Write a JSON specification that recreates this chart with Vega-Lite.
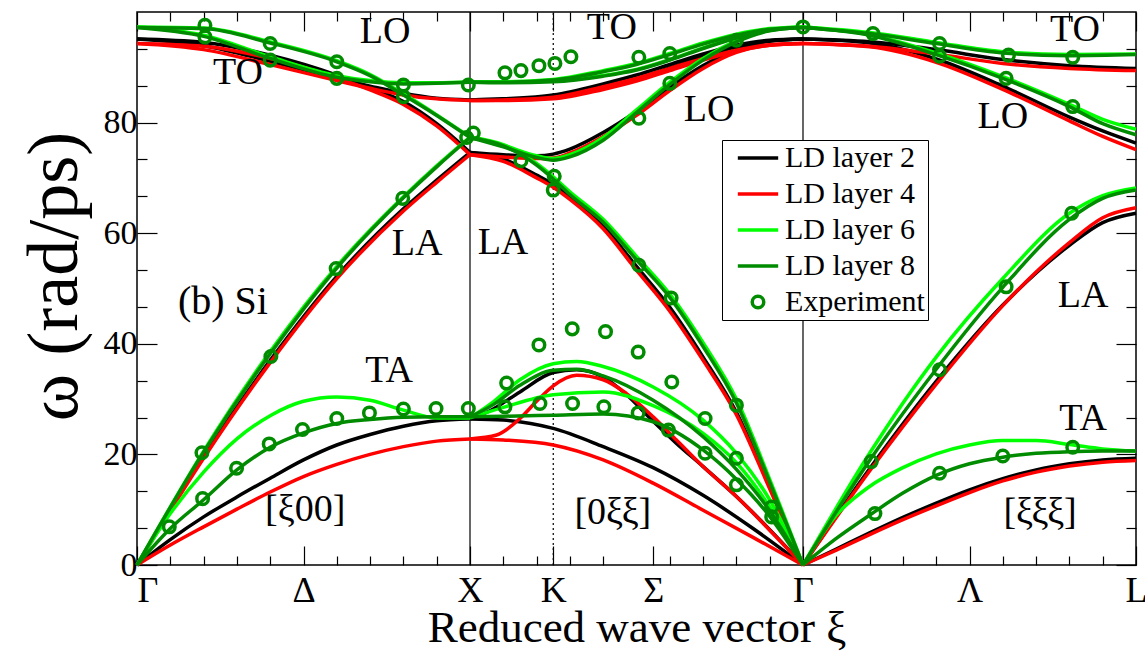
{
  "$schema": "https://vega.github.io/schema/vega-lite/v6.json",
  "width": 999,
  "height": 553,
  "autosize": {"type": "none"},
  "padding": {"left": 137, "top": 12, "right": 9, "bottom": 92},
  "background": "white",
  "config": {
    "font": "Liberation Serif",
    "view": {"stroke": "#000", "strokeWidth": 1.5},
    "style": {"guide-label": {"font": "Liberation Serif, serif"}, "guide-title": {"font": "Liberation Serif, serif"}},
    "axis": {"domain": false, "grid": false, "labelFont": "Liberation Serif", "titleFont": "Liberation Serif", "labelColor": "#000", "titleColor": "#000", "tickColor": "#000", "titleFontWeight": "normal", "labelFlush": false, "labelOverlap": false},
    "legend": {"labelFont": "Liberation Serif, serif", "labelFontSize": 30, "labelColor": "#000"}
  },
  "datasets": {
    "bands": [
      {"m":"L2","b":"GX-TA","x":0,"w":0},{"m":"L2","b":"GX-TA","x":0.1,"w":4.6},{"m":"L2","b":"GX-TA","x":0.2,"w":8.7},{"m":"L2","b":"GX-TA","x":0.3,"w":12.3},{"m":"L2","b":"GX-TA","x":0.4,"w":15.7},{"m":"L2","b":"GX-TA","x":0.5,"w":19.0},{"m":"L2","b":"GX-TA","x":0.6,"w":21.7},{"m":"L2","b":"GX-TA","x":0.7,"w":23.6},{"m":"L2","b":"GX-TA","x":0.8,"w":25.1},{"m":"L2","b":"GX-TA","x":0.9,"w":26.1},{"m":"L2","b":"GX-TA","x":1,"w":26.4},
      {"m":"L2","b":"GX-LA","x":0,"w":0},{"m":"L2","b":"GX-LA","x":0.2,"w":19.6},{"m":"L2","b":"GX-LA","x":0.4,"w":37.0},{"m":"L2","b":"GX-LA","x":0.6,"w":52.2},{"m":"L2","b":"GX-LA","x":0.8,"w":64.4},{"m":"L2","b":"GX-LA","x":0.9,"w":69.6},{"m":"L2","b":"GX-LA","x":1,"w":74.6},
      {"m":"L2","b":"GX-LO","x":0,"w":95.1},{"m":"L2","b":"GX-LO","x":0.2,"w":94.5},{"m":"L2","b":"GX-LO","x":0.4,"w":92.2},{"m":"L2","b":"GX-LO","x":0.6,"w":88.6},{"m":"L2","b":"GX-LO","x":0.7,"w":86.3},{"m":"L2","b":"GX-LO","x":0.8,"w":83.8},{"m":"L2","b":"GX-LO","x":0.9,"w":79.8},{"m":"L2","b":"GX-LO","x":1,"w":74.6},
      {"m":"L2","b":"GX-TO","x":0,"w":95.1},{"m":"L2","b":"GX-TO","x":0.2,"w":93.9},{"m":"L2","b":"GX-TO","x":0.4,"w":91.1},{"m":"L2","b":"GX-TO","x":0.6,"w":88.0},{"m":"L2","b":"GX-TO","x":0.7,"w":86.6},{"m":"L2","b":"GX-TO","x":0.8,"w":85.3},{"m":"L2","b":"GX-TO","x":0.9,"w":84.4},{"m":"L2","b":"GX-TO","x":1,"w":84.1},
      {"m":"L2","b":"S-TA1","x":1,"w":26.4},{"m":"L2","b":"S-TA1","x":1.1,"w":26.2},{"m":"L2","b":"S-TA1","x":1.25,"w":24.7},{"m":"L2","b":"S-TA1","x":1.4,"w":21.4},{"m":"L2","b":"S-TA1","x":1.55,"w":17.6},{"m":"L2","b":"S-TA1","x":1.7,"w":12.6},{"m":"L2","b":"S-TA1","x":1.85,"w":6.6},{"m":"L2","b":"S-TA1","x":2,"w":0},
      {"m":"L2","b":"S-TA2","x":1,"w":26.4},{"m":"L2","b":"S-TA2","x":1.06,"w":27.9},{"m":"L2","b":"S-TA2","x":1.15,"w":31.3},{"m":"L2","b":"S-TA2","x":1.25,"w":34.8},{"m":"L2","b":"S-TA2","x":1.32,"w":35.3},{"m":"L2","b":"S-TA2","x":1.4,"w":34.0},{"m":"L2","b":"S-TA2","x":1.47,"w":30.8},{"m":"L2","b":"S-TA2","x":1.55,"w":26.0},{"m":"L2","b":"S-TA2","x":1.62,"w":22.0},{"m":"L2","b":"S-TA2","x":1.7,"w":17.8},{"m":"L2","b":"S-TA2","x":1.8,"w":12.4},{"m":"L2","b":"S-TA2","x":1.9,"w":6.4},{"m":"L2","b":"S-TA2","x":2,"w":0},
      {"m":"L2","b":"S-LA","x":1,"w":74.6},{"m":"L2","b":"S-LA","x":1.1,"w":73.4},{"m":"L2","b":"S-LA","x":1.2,"w":70.5},{"m":"L2","b":"S-LA","x":1.25,"w":68.8},{"m":"L2","b":"S-LA","x":1.3,"w":66.6},{"m":"L2","b":"S-LA","x":1.4,"w":61.3},{"m":"L2","b":"S-LA","x":1.5,"w":54.0},{"m":"L2","b":"S-LA","x":1.6,"w":46.6},{"m":"L2","b":"S-LA","x":1.7,"w":37.6},{"m":"L2","b":"S-LA","x":1.8,"w":27.6},{"m":"L2","b":"S-LA","x":1.9,"w":14.1},{"m":"L2","b":"S-LA","x":2,"w":0},
      {"m":"L2","b":"S-LO","x":1,"w":74.6},{"m":"L2","b":"S-LO","x":1.1,"w":74.2},{"m":"L2","b":"S-LO","x":1.2,"w":74.0},{"m":"L2","b":"S-LO","x":1.25,"w":74.3},{"m":"L2","b":"S-LO","x":1.3,"w":75.2},{"m":"L2","b":"S-LO","x":1.4,"w":78.2},{"m":"L2","b":"S-LO","x":1.5,"w":82.0},{"m":"L2","b":"S-LO","x":1.6,"w":86.4},{"m":"L2","b":"S-LO","x":1.7,"w":90.3},{"m":"L2","b":"S-LO","x":1.8,"w":93.2},{"m":"L2","b":"S-LO","x":1.9,"w":94.7},{"m":"L2","b":"S-LO","x":2,"w":95.1},
      {"m":"L2","b":"S-TOa","x":1,"w":84.1},{"m":"L2","b":"S-TOa","x":1.1,"w":84.3},{"m":"L2","b":"S-TOa","x":1.25,"w":85.0},{"m":"L2","b":"S-TOa","x":1.4,"w":87.0},{"m":"L2","b":"S-TOa","x":1.5,"w":88.6},{"m":"L2","b":"S-TOa","x":1.6,"w":90.5},{"m":"L2","b":"S-TOa","x":1.7,"w":92.4},{"m":"L2","b":"S-TOa","x":1.8,"w":94.0},{"m":"L2","b":"S-TOa","x":1.9,"w":94.9},{"m":"L2","b":"S-TOa","x":2,"w":95.1},
      {"m":"L2","b":"S-TOb","x":1,"w":84.1},{"m":"L2","b":"S-TOb","x":1.1,"w":84.2},{"m":"L2","b":"S-TOb","x":1.25,"w":84.6},{"m":"L2","b":"S-TOb","x":1.4,"w":86.3},{"m":"L2","b":"S-TOb","x":1.5,"w":87.9},{"m":"L2","b":"S-TOb","x":1.6,"w":89.9},{"m":"L2","b":"S-TOb","x":1.7,"w":91.9},{"m":"L2","b":"S-TOb","x":1.8,"w":93.7},{"m":"L2","b":"S-TOb","x":1.9,"w":94.8},{"m":"L2","b":"S-TOb","x":2,"w":95.1},
      {"m":"L2","b":"L-TA","x":2,"w":0},{"m":"L2","b":"L-TA","x":2.1,"w":2.9},{"m":"L2","b":"L-TA","x":2.2,"w":5.8},{"m":"L2","b":"L-TA","x":2.3,"w":8.6},{"m":"L2","b":"L-TA","x":2.4,"w":11.2},{"m":"L2","b":"L-TA","x":2.5,"w":13.6},{"m":"L2","b":"L-TA","x":2.6,"w":15.6},{"m":"L2","b":"L-TA","x":2.7,"w":17.2},{"m":"L2","b":"L-TA","x":2.8,"w":18.3},{"m":"L2","b":"L-TA","x":2.9,"w":19.0},{"m":"L2","b":"L-TA","x":3,"w":19.3},
      {"m":"L2","b":"L-LA","x":2,"w":0},{"m":"L2","b":"L-LA","x":2.2,"w":17.4},{"m":"L2","b":"L-LA","x":2.4,"w":33.2},{"m":"L2","b":"L-LA","x":2.6,"w":47.0},{"m":"L2","b":"L-LA","x":2.8,"w":57.8},{"m":"L2","b":"L-LA","x":2.9,"w":61.9},{"m":"L2","b":"L-LA","x":3,"w":63.6},
      {"m":"L2","b":"L-LO","x":2,"w":95.1},{"m":"L2","b":"L-LO","x":2.2,"w":94.4},{"m":"L2","b":"L-LO","x":2.4,"w":91.5},{"m":"L2","b":"L-LO","x":2.6,"w":86.6},{"m":"L2","b":"L-LO","x":2.8,"w":81.0},{"m":"L2","b":"L-LO","x":2.9,"w":78.5},{"m":"L2","b":"L-LO","x":3,"w":76.3},
      {"m":"L2","b":"L-TO","x":2,"w":95.1},{"m":"L2","b":"L-TO","x":2.2,"w":94.6},{"m":"L2","b":"L-TO","x":2.4,"w":93.2},{"m":"L2","b":"L-TO","x":2.6,"w":91.4},{"m":"L2","b":"L-TO","x":2.8,"w":90.3},{"m":"L2","b":"L-TO","x":3,"w":89.8},

      {"m":"L4","b":"GX-TA","x":0,"w":0},{"m":"L4","b":"GX-TA","x":0.1,"w":3.6},{"m":"L4","b":"GX-TA","x":0.2,"w":6.9},{"m":"L4","b":"GX-TA","x":0.3,"w":10.1},{"m":"L4","b":"GX-TA","x":0.4,"w":13.2},{"m":"L4","b":"GX-TA","x":0.5,"w":16.0},{"m":"L4","b":"GX-TA","x":0.6,"w":18.2},{"m":"L4","b":"GX-TA","x":0.7,"w":20.0},{"m":"L4","b":"GX-TA","x":0.8,"w":21.4},{"m":"L4","b":"GX-TA","x":0.9,"w":22.4},{"m":"L4","b":"GX-TA","x":1,"w":22.8},
      {"m":"L4","b":"GX-LA","x":0,"w":0},{"m":"L4","b":"GX-LA","x":0.2,"w":19.3},{"m":"L4","b":"GX-LA","x":0.4,"w":36.6},{"m":"L4","b":"GX-LA","x":0.6,"w":51.8},{"m":"L4","b":"GX-LA","x":0.8,"w":64.0},{"m":"L4","b":"GX-LA","x":0.9,"w":69.2},{"m":"L4","b":"GX-LA","x":1,"w":74.2},
      {"m":"L4","b":"GX-LO","x":0,"w":94.3},{"m":"L4","b":"GX-LO","x":0.2,"w":93.8},{"m":"L4","b":"GX-LO","x":0.4,"w":91.6},{"m":"L4","b":"GX-LO","x":0.6,"w":88.1},{"m":"L4","b":"GX-LO","x":0.7,"w":85.9},{"m":"L4","b":"GX-LO","x":0.8,"w":83.3},{"m":"L4","b":"GX-LO","x":0.9,"w":79.4},{"m":"L4","b":"GX-LO","x":1,"w":74.2},
      {"m":"L4","b":"GX-TO","x":0,"w":94.3},{"m":"L4","b":"GX-TO","x":0.2,"w":93.2},{"m":"L4","b":"GX-TO","x":0.4,"w":90.5},{"m":"L4","b":"GX-TO","x":0.6,"w":87.6},{"m":"L4","b":"GX-TO","x":0.7,"w":86.2},{"m":"L4","b":"GX-TO","x":0.8,"w":85.0},{"m":"L4","b":"GX-TO","x":0.9,"w":84.3},{"m":"L4","b":"GX-TO","x":1,"w":84.0},
      {"m":"L4","b":"S-TA1","x":1,"w":22.8},{"m":"L4","b":"S-TA1","x":1.1,"w":22.6},{"m":"L4","b":"S-TA1","x":1.25,"w":21.7},{"m":"L4","b":"S-TA1","x":1.4,"w":19.0},{"m":"L4","b":"S-TA1","x":1.55,"w":14.8},{"m":"L4","b":"S-TA1","x":1.7,"w":9.9},{"m":"L4","b":"S-TA1","x":1.85,"w":5.0},{"m":"L4","b":"S-TA1","x":2,"w":0},
      {"m":"L4","b":"S-TA2","x":1,"w":22.8},{"m":"L4","b":"S-TA2","x":1.08,"w":23.5},{"m":"L4","b":"S-TA2","x":1.15,"w":26.5},{"m":"L4","b":"S-TA2","x":1.2,"w":29.6},{"m":"L4","b":"S-TA2","x":1.25,"w":32.4},{"m":"L4","b":"S-TA2","x":1.32,"w":34.3},{"m":"L4","b":"S-TA2","x":1.4,"w":33.5},{"m":"L4","b":"S-TA2","x":1.47,"w":31.0},{"m":"L4","b":"S-TA2","x":1.55,"w":26.8},{"m":"L4","b":"S-TA2","x":1.62,"w":22.6},{"m":"L4","b":"S-TA2","x":1.7,"w":17.8},{"m":"L4","b":"S-TA2","x":1.8,"w":12.4},{"m":"L4","b":"S-TA2","x":1.9,"w":6.3},{"m":"L4","b":"S-TA2","x":2,"w":0},
      {"m":"L4","b":"S-LA","x":1,"w":74.2},{"m":"L4","b":"S-LA","x":1.1,"w":73.0},{"m":"L4","b":"S-LA","x":1.2,"w":70.0},{"m":"L4","b":"S-LA","x":1.25,"w":68.3},{"m":"L4","b":"S-LA","x":1.3,"w":66.1},{"m":"L4","b":"S-LA","x":1.4,"w":60.8},{"m":"L4","b":"S-LA","x":1.5,"w":53.3},{"m":"L4","b":"S-LA","x":1.6,"w":45.9},{"m":"L4","b":"S-LA","x":1.7,"w":37.0},{"m":"L4","b":"S-LA","x":1.8,"w":27.2},{"m":"L4","b":"S-LA","x":1.9,"w":13.8},{"m":"L4","b":"S-LA","x":2,"w":0},
      {"m":"L4","b":"S-LO","x":1,"w":74.2},{"m":"L4","b":"S-LO","x":1.1,"w":73.8},{"m":"L4","b":"S-LO","x":1.2,"w":73.5},{"m":"L4","b":"S-LO","x":1.25,"w":73.6},{"m":"L4","b":"S-LO","x":1.3,"w":74.5},{"m":"L4","b":"S-LO","x":1.4,"w":77.5},{"m":"L4","b":"S-LO","x":1.5,"w":81.3},{"m":"L4","b":"S-LO","x":1.6,"w":85.8},{"m":"L4","b":"S-LO","x":1.7,"w":89.8},{"m":"L4","b":"S-LO","x":1.8,"w":92.7},{"m":"L4","b":"S-LO","x":1.9,"w":94.0},{"m":"L4","b":"S-LO","x":2,"w":94.3},
      {"m":"L4","b":"S-TOa","x":1,"w":84.0},{"m":"L4","b":"S-TOa","x":1.1,"w":84.1},{"m":"L4","b":"S-TOa","x":1.25,"w":84.6},{"m":"L4","b":"S-TOa","x":1.4,"w":86.5},{"m":"L4","b":"S-TOa","x":1.5,"w":88.0},{"m":"L4","b":"S-TOa","x":1.6,"w":89.8},{"m":"L4","b":"S-TOa","x":1.7,"w":91.6},{"m":"L4","b":"S-TOa","x":1.8,"w":93.1},{"m":"L4","b":"S-TOa","x":1.9,"w":94.1},{"m":"L4","b":"S-TOa","x":2,"w":94.3},
      {"m":"L4","b":"S-TOb","x":1,"w":84.0},{"m":"L4","b":"S-TOb","x":1.1,"w":84.0},{"m":"L4","b":"S-TOb","x":1.25,"w":84.3},{"m":"L4","b":"S-TOb","x":1.4,"w":86.0},{"m":"L4","b":"S-TOb","x":1.5,"w":87.5},{"m":"L4","b":"S-TOb","x":1.6,"w":89.4},{"m":"L4","b":"S-TOb","x":1.7,"w":91.3},{"m":"L4","b":"S-TOb","x":1.8,"w":92.9},{"m":"L4","b":"S-TOb","x":1.9,"w":94.0},{"m":"L4","b":"S-TOb","x":2,"w":94.3},
      {"m":"L4","b":"L-TA","x":2,"w":0},{"m":"L4","b":"L-TA","x":2.1,"w":2.7},{"m":"L4","b":"L-TA","x":2.2,"w":5.5},{"m":"L4","b":"L-TA","x":2.3,"w":8.2},{"m":"L4","b":"L-TA","x":2.4,"w":10.7},{"m":"L4","b":"L-TA","x":2.5,"w":13.1},{"m":"L4","b":"L-TA","x":2.6,"w":15.2},{"m":"L4","b":"L-TA","x":2.7,"w":16.8},{"m":"L4","b":"L-TA","x":2.8,"w":17.9},{"m":"L4","b":"L-TA","x":2.9,"w":18.6},{"m":"L4","b":"L-TA","x":3,"w":18.9},
      {"m":"L4","b":"L-LA","x":2,"w":0},{"m":"L4","b":"L-LA","x":2.2,"w":17.0},{"m":"L4","b":"L-LA","x":2.4,"w":32.7},{"m":"L4","b":"L-LA","x":2.6,"w":46.9},{"m":"L4","b":"L-LA","x":2.8,"w":58.3},{"m":"L4","b":"L-LA","x":2.9,"w":62.8},{"m":"L4","b":"L-LA","x":3,"w":64.6},
      {"m":"L4","b":"L-LO","x":2,"w":94.3},{"m":"L4","b":"L-LO","x":2.2,"w":93.7},{"m":"L4","b":"L-LO","x":2.4,"w":90.9},{"m":"L4","b":"L-LO","x":2.6,"w":86.0},{"m":"L4","b":"L-LO","x":2.8,"w":80.3},{"m":"L4","b":"L-LO","x":2.9,"w":77.5},{"m":"L4","b":"L-LO","x":3,"w":75.1},
      {"m":"L4","b":"L-TO","x":2,"w":94.3},{"m":"L4","b":"L-TO","x":2.2,"w":93.8},{"m":"L4","b":"L-TO","x":2.4,"w":92.4},{"m":"L4","b":"L-TO","x":2.6,"w":90.7},{"m":"L4","b":"L-TO","x":2.8,"w":89.8},{"m":"L4","b":"L-TO","x":3,"w":89.4},

      {"m":"L6","b":"GX-TA","x":0,"w":0},{"m":"L6","b":"GX-TA","x":0.1,"w":9.3},{"m":"L6","b":"GX-TA","x":0.2,"w":16.8},{"m":"L6","b":"GX-TA","x":0.3,"w":22.8},{"m":"L6","b":"GX-TA","x":0.4,"w":27.0},{"m":"L6","b":"GX-TA","x":0.5,"w":29.6},{"m":"L6","b":"GX-TA","x":0.6,"w":30.4},{"m":"L6","b":"GX-TA","x":0.7,"w":29.8},{"m":"L6","b":"GX-TA","x":0.8,"w":28.0},{"m":"L6","b":"GX-TA","x":0.9,"w":26.6},{"m":"L6","b":"GX-TA","x":1,"w":26.6},
      {"m":"L6","b":"GX-LA","x":0,"w":0},{"m":"L6","b":"GX-LA","x":0.2,"w":20.6},{"m":"L6","b":"GX-LA","x":0.4,"w":38.6},{"m":"L6","b":"GX-LA","x":0.6,"w":54.0},{"m":"L6","b":"GX-LA","x":0.8,"w":66.6},{"m":"L6","b":"GX-LA","x":0.9,"w":72.2},{"m":"L6","b":"GX-LA","x":1,"w":77.4},
      {"m":"L6","b":"GX-LO","x":0,"w":97.3},{"m":"L6","b":"GX-LO","x":0.2,"w":97.1},{"m":"L6","b":"GX-LO","x":0.4,"w":94.6},{"m":"L6","b":"GX-LO","x":0.6,"w":91.2},{"m":"L6","b":"GX-LO","x":0.7,"w":88.7},{"m":"L6","b":"GX-LO","x":0.8,"w":85.2},{"m":"L6","b":"GX-LO","x":0.9,"w":81.4},{"m":"L6","b":"GX-LO","x":1,"w":77.4},
      {"m":"L6","b":"GX-TO","x":0,"w":97.3},{"m":"L6","b":"GX-TO","x":0.2,"w":95.8},{"m":"L6","b":"GX-TO","x":0.4,"w":91.9},{"m":"L6","b":"GX-TO","x":0.6,"w":88.5},{"m":"L6","b":"GX-TO","x":0.7,"w":87.6},{"m":"L6","b":"GX-TO","x":0.8,"w":87.2},{"m":"L6","b":"GX-TO","x":0.9,"w":87.2},{"m":"L6","b":"GX-TO","x":1,"w":87.4},
      {"m":"L6","b":"S-TA1","x":1,"w":26.6},{"m":"L6","b":"S-TA1","x":1.1,"w":28.5},{"m":"L6","b":"S-TA1","x":1.25,"w":30.8},{"m":"L6","b":"S-TA1","x":1.4,"w":31.3},{"m":"L6","b":"S-TA1","x":1.55,"w":28.8},{"m":"L6","b":"S-TA1","x":1.7,"w":23.8},{"m":"L6","b":"S-TA1","x":1.8,"w":18.5},{"m":"L6","b":"S-TA1","x":1.9,"w":10.5},{"m":"L6","b":"S-TA1","x":2,"w":0},
      {"m":"L6","b":"S-TA2","x":1,"w":26.6},{"m":"L6","b":"S-TA2","x":1.07,"w":29.5},{"m":"L6","b":"S-TA2","x":1.15,"w":33.5},{"m":"L6","b":"S-TA2","x":1.25,"w":36.4},{"m":"L6","b":"S-TA2","x":1.32,"w":36.8},{"m":"L6","b":"S-TA2","x":1.4,"w":35.9},{"m":"L6","b":"S-TA2","x":1.55,"w":32.2},{"m":"L6","b":"S-TA2","x":1.7,"w":26.2},{"m":"L6","b":"S-TA2","x":1.8,"w":20.2},{"m":"L6","b":"S-TA2","x":1.9,"w":11.8},{"m":"L6","b":"S-TA2","x":2,"w":0},
      {"m":"L6","b":"S-LA","x":1,"w":77.4},{"m":"L6","b":"S-LA","x":1.1,"w":76.0},{"m":"L6","b":"S-LA","x":1.2,"w":72.6},{"m":"L6","b":"S-LA","x":1.25,"w":70.2},{"m":"L6","b":"S-LA","x":1.3,"w":67.5},{"m":"L6","b":"S-LA","x":1.4,"w":62.5},{"m":"L6","b":"S-LA","x":1.5,"w":55.8},{"m":"L6","b":"S-LA","x":1.6,"w":49.0},{"m":"L6","b":"S-LA","x":1.7,"w":40.2},{"m":"L6","b":"S-LA","x":1.8,"w":30.0},{"m":"L6","b":"S-LA","x":1.9,"w":15.5},{"m":"L6","b":"S-LA","x":2,"w":0},
      {"m":"L6","b":"S-LO","x":1,"w":77.4},{"m":"L6","b":"S-LO","x":1.1,"w":75.9},{"m":"L6","b":"S-LO","x":1.2,"w":74.0},{"m":"L6","b":"S-LO","x":1.25,"w":73.5},{"m":"L6","b":"S-LO","x":1.3,"w":74.2},{"m":"L6","b":"S-LO","x":1.4,"w":77.3},{"m":"L6","b":"S-LO","x":1.5,"w":82.3},{"m":"L6","b":"S-LO","x":1.6,"w":87.3},{"m":"L6","b":"S-LO","x":1.7,"w":91.6},{"m":"L6","b":"S-LO","x":1.8,"w":94.8},{"m":"L6","b":"S-LO","x":1.9,"w":96.7},{"m":"L6","b":"S-LO","x":2,"w":97.3},
      {"m":"L6","b":"S-TOa","x":1,"w":87.4},{"m":"L6","b":"S-TOa","x":1.1,"w":87.4},{"m":"L6","b":"S-TOa","x":1.25,"w":87.8},{"m":"L6","b":"S-TOa","x":1.4,"w":89.4},{"m":"L6","b":"S-TOa","x":1.5,"w":90.7},{"m":"L6","b":"S-TOa","x":1.6,"w":92.5},{"m":"L6","b":"S-TOa","x":1.7,"w":94.4},{"m":"L6","b":"S-TOa","x":1.8,"w":96.0},{"m":"L6","b":"S-TOa","x":1.9,"w":97.0},{"m":"L6","b":"S-TOa","x":2,"w":97.3},
      {"m":"L6","b":"S-TOb","x":1,"w":87.4},{"m":"L6","b":"S-TOb","x":1.1,"w":87.3},{"m":"L6","b":"S-TOb","x":1.25,"w":87.5},{"m":"L6","b":"S-TOb","x":1.4,"w":88.5},{"m":"L6","b":"S-TOb","x":1.5,"w":89.6},{"m":"L6","b":"S-TOb","x":1.6,"w":91.4},{"m":"L6","b":"S-TOb","x":1.7,"w":93.5},{"m":"L6","b":"S-TOb","x":1.8,"w":95.4},{"m":"L6","b":"S-TOb","x":1.9,"w":96.8},{"m":"L6","b":"S-TOb","x":2,"w":97.3},
      {"m":"L6","b":"L-TA","x":2,"w":0},{"m":"L6","b":"L-TA","x":2.1,"w":9.0},{"m":"L6","b":"L-TA","x":2.2,"w":14.2},{"m":"L6","b":"L-TA","x":2.3,"w":17.6},{"m":"L6","b":"L-TA","x":2.4,"w":20.1},{"m":"L6","b":"L-TA","x":2.5,"w":21.7},{"m":"L6","b":"L-TA","x":2.6,"w":22.5},{"m":"L6","b":"L-TA","x":2.7,"w":22.5},{"m":"L6","b":"L-TA","x":2.8,"w":21.8},{"m":"L6","b":"L-TA","x":2.9,"w":21.0},{"m":"L6","b":"L-TA","x":3,"w":20.6},
      {"m":"L6","b":"L-LA","x":2,"w":0},{"m":"L6","b":"L-LA","x":2.2,"w":20.2},{"m":"L6","b":"L-LA","x":2.4,"w":37.6},{"m":"L6","b":"L-LA","x":2.6,"w":51.8},{"m":"L6","b":"L-LA","x":2.8,"w":63.6},{"m":"L6","b":"L-LA","x":2.9,"w":66.8},{"m":"L6","b":"L-LA","x":3,"w":68.2},
      {"m":"L6","b":"L-LO","x":2,"w":97.3},{"m":"L6","b":"L-LO","x":2.2,"w":95.9},{"m":"L6","b":"L-LO","x":2.4,"w":92.6},{"m":"L6","b":"L-LO","x":2.6,"w":88.3},{"m":"L6","b":"L-LO","x":2.8,"w":83.3},{"m":"L6","b":"L-LO","x":2.9,"w":80.6},{"m":"L6","b":"L-LO","x":3,"w":78.8},
      {"m":"L6","b":"L-TO","x":2,"w":97.3},{"m":"L6","b":"L-TO","x":2.2,"w":96.3},{"m":"L6","b":"L-TO","x":2.4,"w":94.5},{"m":"L6","b":"L-TO","x":2.6,"w":92.8},{"m":"L6","b":"L-TO","x":2.8,"w":92.3},{"m":"L6","b":"L-TO","x":3,"w":92.4},

      {"m":"L8","b":"GX-TA","x":0,"w":0},{"m":"L8","b":"GX-TA","x":0.1,"w":6.6},{"m":"L8","b":"GX-TA","x":0.2,"w":11.8},{"m":"L8","b":"GX-TA","x":0.3,"w":17.2},{"m":"L8","b":"GX-TA","x":0.4,"w":21.3},{"m":"L8","b":"GX-TA","x":0.5,"w":23.9},{"m":"L8","b":"GX-TA","x":0.6,"w":25.6},{"m":"L8","b":"GX-TA","x":0.7,"w":26.3},{"m":"L8","b":"GX-TA","x":0.8,"w":26.7},{"m":"L8","b":"GX-TA","x":0.9,"w":26.8},{"m":"L8","b":"GX-TA","x":1,"w":26.8},
      {"m":"L8","b":"GX-LA","x":0,"w":0},{"m":"L8","b":"GX-LA","x":0.2,"w":20.4},{"m":"L8","b":"GX-LA","x":0.4,"w":38.2},{"m":"L8","b":"GX-LA","x":0.6,"w":53.7},{"m":"L8","b":"GX-LA","x":0.8,"w":66.4},{"m":"L8","b":"GX-LA","x":0.9,"w":72.0},{"m":"L8","b":"GX-LA","x":1,"w":77.3},
      {"m":"L8","b":"GX-LO","x":0,"w":97.2},{"m":"L8","b":"GX-LO","x":0.2,"w":97.0},{"m":"L8","b":"GX-LO","x":0.4,"w":94.4},{"m":"L8","b":"GX-LO","x":0.6,"w":91.0},{"m":"L8","b":"GX-LO","x":0.7,"w":88.5},{"m":"L8","b":"GX-LO","x":0.8,"w":85.0},{"m":"L8","b":"GX-LO","x":0.9,"w":81.3},{"m":"L8","b":"GX-LO","x":1,"w":77.3},
      {"m":"L8","b":"GX-TO","x":0,"w":97.2},{"m":"L8","b":"GX-TO","x":0.2,"w":95.6},{"m":"L8","b":"GX-TO","x":0.4,"w":91.6},{"m":"L8","b":"GX-TO","x":0.6,"w":88.2},{"m":"L8","b":"GX-TO","x":0.7,"w":87.4},{"m":"L8","b":"GX-TO","x":0.8,"w":87.0},{"m":"L8","b":"GX-TO","x":0.9,"w":87.1},{"m":"L8","b":"GX-TO","x":1,"w":87.3},
      {"m":"L8","b":"S-TA1","x":1,"w":26.8},{"m":"L8","b":"S-TA1","x":1.1,"w":26.9},{"m":"L8","b":"S-TA1","x":1.25,"w":27.1},{"m":"L8","b":"S-TA1","x":1.4,"w":27.3},{"m":"L8","b":"S-TA1","x":1.55,"w":25.9},{"m":"L8","b":"S-TA1","x":1.7,"w":20.8},{"m":"L8","b":"S-TA1","x":1.8,"w":15.5},{"m":"L8","b":"S-TA1","x":1.9,"w":8.8},{"m":"L8","b":"S-TA1","x":2,"w":0},
      {"m":"L8","b":"S-TA2","x":1,"w":26.8},{"m":"L8","b":"S-TA2","x":1.07,"w":29.0},{"m":"L8","b":"S-TA2","x":1.15,"w":32.5},{"m":"L8","b":"S-TA2","x":1.25,"w":35.2},{"m":"L8","b":"S-TA2","x":1.32,"w":35.4},{"m":"L8","b":"S-TA2","x":1.4,"w":34.2},{"m":"L8","b":"S-TA2","x":1.55,"w":29.8},{"m":"L8","b":"S-TA2","x":1.7,"w":23.2},{"m":"L8","b":"S-TA2","x":1.8,"w":17.3},{"m":"L8","b":"S-TA2","x":1.9,"w":9.8},{"m":"L8","b":"S-TA2","x":2,"w":0},
      {"m":"L8","b":"S-LA","x":1,"w":77.3},{"m":"L8","b":"S-LA","x":1.1,"w":75.8},{"m":"L8","b":"S-LA","x":1.2,"w":72.3},{"m":"L8","b":"S-LA","x":1.25,"w":69.8},{"m":"L8","b":"S-LA","x":1.3,"w":67.0},{"m":"L8","b":"S-LA","x":1.4,"w":62.0},{"m":"L8","b":"S-LA","x":1.5,"w":55.2},{"m":"L8","b":"S-LA","x":1.6,"w":48.4},{"m":"L8","b":"S-LA","x":1.7,"w":39.5},{"m":"L8","b":"S-LA","x":1.8,"w":29.3},{"m":"L8","b":"S-LA","x":1.9,"w":15.0},{"m":"L8","b":"S-LA","x":2,"w":0},
      {"m":"L8","b":"S-LO","x":1,"w":77.3},{"m":"L8","b":"S-LO","x":1.1,"w":75.6},{"m":"L8","b":"S-LO","x":1.2,"w":73.7},{"m":"L8","b":"S-LO","x":1.25,"w":73.2},{"m":"L8","b":"S-LO","x":1.3,"w":73.8},{"m":"L8","b":"S-LO","x":1.4,"w":76.8},{"m":"L8","b":"S-LO","x":1.5,"w":81.8},{"m":"L8","b":"S-LO","x":1.6,"w":86.9},{"m":"L8","b":"S-LO","x":1.7,"w":91.3},{"m":"L8","b":"S-LO","x":1.8,"w":94.6},{"m":"L8","b":"S-LO","x":1.9,"w":96.6},{"m":"L8","b":"S-LO","x":2,"w":97.2},
      {"m":"L8","b":"S-TOa","x":1,"w":87.3},{"m":"L8","b":"S-TOa","x":1.1,"w":87.3},{"m":"L8","b":"S-TOa","x":1.25,"w":87.7},{"m":"L8","b":"S-TOa","x":1.4,"w":89.2},{"m":"L8","b":"S-TOa","x":1.5,"w":90.5},{"m":"L8","b":"S-TOa","x":1.6,"w":92.3},{"m":"L8","b":"S-TOa","x":1.7,"w":94.2},{"m":"L8","b":"S-TOa","x":1.8,"w":95.8},{"m":"L8","b":"S-TOa","x":1.9,"w":96.9},{"m":"L8","b":"S-TOa","x":2,"w":97.2},
      {"m":"L8","b":"S-TOb","x":1,"w":87.3},{"m":"L8","b":"S-TOb","x":1.1,"w":87.2},{"m":"L8","b":"S-TOb","x":1.25,"w":87.4},{"m":"L8","b":"S-TOb","x":1.4,"w":88.4},{"m":"L8","b":"S-TOb","x":1.5,"w":89.5},{"m":"L8","b":"S-TOb","x":1.6,"w":91.3},{"m":"L8","b":"S-TOb","x":1.7,"w":93.4},{"m":"L8","b":"S-TOb","x":1.8,"w":95.3},{"m":"L8","b":"S-TOb","x":1.9,"w":96.7},{"m":"L8","b":"S-TOb","x":2,"w":97.2},
      {"m":"L8","b":"L-TA","x":2,"w":0},{"m":"L8","b":"L-TA","x":2.1,"w":4.8},{"m":"L8","b":"L-TA","x":2.2,"w":9.0},{"m":"L8","b":"L-TA","x":2.3,"w":13.0},{"m":"L8","b":"L-TA","x":2.4,"w":16.2},{"m":"L8","b":"L-TA","x":2.5,"w":18.3},{"m":"L8","b":"L-TA","x":2.6,"w":19.5},{"m":"L8","b":"L-TA","x":2.7,"w":20.2},{"m":"L8","b":"L-TA","x":2.8,"w":20.5},{"m":"L8","b":"L-TA","x":2.9,"w":20.6},{"m":"L8","b":"L-TA","x":3,"w":20.6},
      {"m":"L8","b":"L-LA","x":2,"w":0},{"m":"L8","b":"L-LA","x":2.2,"w":18.9},{"m":"L8","b":"L-LA","x":2.4,"w":35.4},{"m":"L8","b":"L-LA","x":2.6,"w":50.2},{"m":"L8","b":"L-LA","x":2.8,"w":62.5},{"m":"L8","b":"L-LA","x":2.9,"w":66.3},{"m":"L8","b":"L-LA","x":3,"w":67.8},
      {"m":"L8","b":"L-LO","x":2,"w":97.2},{"m":"L8","b":"L-LO","x":2.2,"w":95.8},{"m":"L8","b":"L-LO","x":2.4,"w":92.3},{"m":"L8","b":"L-LO","x":2.6,"w":88.0},{"m":"L8","b":"L-LO","x":2.8,"w":82.9},{"m":"L8","b":"L-LO","x":2.9,"w":79.8},{"m":"L8","b":"L-LO","x":3,"w":77.8},
      {"m":"L8","b":"L-TO","x":2,"w":97.2},{"m":"L8","b":"L-TO","x":2.2,"w":96.1},{"m":"L8","b":"L-TO","x":2.4,"w":94.3},{"m":"L8","b":"L-TO","x":2.6,"w":92.6},{"m":"L8","b":"L-TO","x":2.8,"w":92.1},{"m":"L8","b":"L-TO","x":3,"w":92.3}
    ],
    "exp": [
      {"m":"EXP","x":0.097,"w":6.9},{"m":"EXP","x":0.197,"w":12.0},{"m":"EXP","x":0.299,"w":17.5},{"m":"EXP","x":0.397,"w":21.9},{"m":"EXP","x":0.497,"w":24.5},{"m":"EXP","x":0.6,"w":26.5},{"m":"EXP","x":0.698,"w":27.5},{"m":"EXP","x":0.8,"w":28.2},{"m":"EXP","x":0.898,"w":28.3},{"m":"EXP","x":0.995,"w":28.3},
      {"m":"EXP","x":0.195,"w":20.3},{"m":"EXP","x":0.402,"w":37.7},{"m":"EXP","x":0.598,"w":53.6},{"m":"EXP","x":0.798,"w":66.3},{"m":"EXP","x":0.99,"w":77.3},{"m":"EXP","x":1.01,"w":78.1},
      {"m":"EXP","x":0.204,"w":97.6},{"m":"EXP","x":0.204,"w":95.5},{"m":"EXP","x":0.4,"w":94.3},{"m":"EXP","x":0.4,"w":91.3},{"m":"EXP","x":0.6,"w":91.0},{"m":"EXP","x":0.6,"w":88.0},{"m":"EXP","x":0.8,"w":86.8},{"m":"EXP","x":0.8,"w":84.7},{"m":"EXP","x":0.995,"w":86.8},
      {"m":"EXP","x":1.105,"w":89.0},{"m":"EXP","x":1.153,"w":89.4},{"m":"EXP","x":1.207,"w":90.3},{"m":"EXP","x":1.255,"w":90.7},{"m":"EXP","x":1.303,"w":91.9},{"m":"EXP","x":1.507,"w":91.8},{"m":"EXP","x":1.6,"w":92.5},{"m":"EXP","x":1.8,"w":94.9},{"m":"EXP","x":2.0,"w":97.3},
      {"m":"EXP","x":1.507,"w":80.8},{"m":"EXP","x":1.6,"w":87.1},{"m":"EXP","x":1.153,"w":73.1},{"m":"EXP","x":1.253,"w":70.3},{"m":"EXP","x":1.25,"w":67.8},
      {"m":"EXP","x":1.507,"w":54.2},{"m":"EXP","x":1.604,"w":48.3},{"m":"EXP","x":1.8,"w":28.9},
      {"m":"EXP","x":1.11,"w":32.9},{"m":"EXP","x":1.207,"w":39.8},{"m":"EXP","x":1.307,"w":42.7},{"m":"EXP","x":1.407,"w":42.2},{"m":"EXP","x":1.505,"w":38.5},{"m":"EXP","x":1.606,"w":33.1},{"m":"EXP","x":1.706,"w":26.5},{"m":"EXP","x":1.8,"w":19.3},{"m":"EXP","x":1.906,"w":10.5},
      {"m":"EXP","x":1.105,"w":28.6},{"m":"EXP","x":1.21,"w":29.2},{"m":"EXP","x":1.308,"w":29.2},{"m":"EXP","x":1.402,"w":28.6},{"m":"EXP","x":1.505,"w":27.5},{"m":"EXP","x":1.596,"w":24.4},{"m":"EXP","x":1.706,"w":20.2},{"m":"EXP","x":1.8,"w":14.5},{"m":"EXP","x":1.906,"w":8.7},
      {"m":"EXP","x":2.21,"w":96.1},{"m":"EXP","x":2.41,"w":94.3},{"m":"EXP","x":2.41,"w":92.0},{"m":"EXP","x":2.617,"w":92.2},{"m":"EXP","x":2.61,"w":88.0},{"m":"EXP","x":2.81,"w":91.8},{"m":"EXP","x":2.81,"w":82.9},
      {"m":"EXP","x":2.205,"w":18.7},{"m":"EXP","x":2.41,"w":35.3},{"m":"EXP","x":2.61,"w":50.3},{"m":"EXP","x":2.807,"w":63.6},
      {"m":"EXP","x":2.216,"w":9.3},{"m":"EXP","x":2.41,"w":16.6},{"m":"EXP","x":2.6,"w":19.7},{"m":"EXP","x":2.81,"w":21.3}
    ],
    "branchLabels": [
      {"t":"LO","x":0.745,"w":96.4},{"t":"TO","x":0.303,"w":89.0},{"t":"TO","x":1.426,"w":97.1},{"t":"LO","x":1.718,"w":82.3},
      {"t":"TO","x":2.817,"w":96.7},{"t":"LO","x":2.6,"w":81.0},{"t":"LA","x":0.841,"w":58.0},{"t":"LA","x":1.099,"w":58.2},
      {"t":"LA","x":2.841,"w":48.6},{"t":"TA","x":0.757,"w":35.1},{"t":"TA","x":2.841,"w":26.4},
      {"t":"[ξ00]","x":0.505,"w":9.9},{"t":"[0ξξ]","x":1.429,"w":9.4},{"t":"[ξξξ]","x":2.712,"w":9.4}
    ],
    "panel": [{"t":"(b) Si","x":0.258,"w":47.6}],
    "lines": [{"x":1,"s":"solid"},{"x":2,"s":"solid"},{"x":1.25,"s":"dot"}]
  },
  "resolve": {"axis": {"x": "independent", "y": "independent"}},
  "layer": [
    {
      "data": {"name": "lines"},
      "transform": [{"filter": "datum.s == 'solid'"}],
      "mark": {"type": "rule", "color": "#000", "strokeWidth": 1.2},
      "encoding": {
        "x": {"field": "x", "type": "quantitative", "scale": {"domain": [0, 3], "nice": false, "zero": false},
          "axis": {"orient": "bottom", "values": [0,0.1,0.2,0.3,0.4,0.5,0.6,0.7,0.8,0.9,1,1.1,1.2,1.25,1.3,1.4,1.55,1.6,1.7,1.8,1.9,2,2.1,2.2,2.3,2.4,2.5,2.6,2.7,2.8,2.9,3],
            "labelExpr": "datum.value==0||datum.value==2?'Γ':datum.value==0.5?'Δ':datum.value==1?'X':datum.value==1.25?'K':datum.value==1.55?'Σ':datum.value==2.5?'Λ':datum.value==3?'L':''",
            "labelAlign": {"condition": {"test": "datum.value == 0", "value": "left"}, "value": "center"},
            "tickSize": {"condition": {"test": "indexof([0,0.5,1,1.25,1.55,2,2.5,3], datum.value) >= 0", "value": -19}, "value": -9},
            "tickWidth": 1.2, "labelPadding": 27, "labelFontSize": 36,
            "title": "Reduced wave vector ξ", "titleFontSize": 45, "titleBaseline": "alphabetic", "titleY": 76}},
        "y": {"datum": 0, "type": "quantitative", "scale": {"domain": [0, 100], "nice": false, "zero": false},
          "axis": {"orient": "left", "values": [0,6.6667,13.3333,20,26.6667,33.3333,40,46.6667,53.3333,60,66.6667,73.3333,80,86.6667,93.3333],
            "labelExpr": "datum.value % 20 === 0 ? datum.label : ''",
            "tickSize": {"condition": {"test": "datum.value % 20 === 0", "value": -20}, "value": -10},
            "tickWidth": 1.2, "labelPadding": 20, "labelFontSize": 34,
            "title": "ω     (rad/ps)", "titleFontSize": 72, "titleBaseline": "alphabetic", "titleX": -61, "titleY": 264}},
        "y2": {"datum": 100}
      }
    },
    {
      "data": {"name": "lines"},
      "transform": [{"filter": "datum.s == 'dot'"}],
      "mark": {"type": "rule", "color": "#000", "strokeWidth": 1.2, "strokeDash": [2, 3]},
      "encoding": {
        "x": {"field": "x", "type": "quantitative",
          "axis": {"orient": "top", "values": [0,0.1,0.2,0.3,0.4,0.5,0.6,0.7,0.8,0.9,1,1.1,1.2,1.25,1.3,1.4,1.55,1.6,1.7,1.8,1.9,2,2.1,2.2,2.3,2.4,2.5,2.6,2.7,2.8,2.9,3],
            "labels": false, "title": null, "tickWidth": 1.2,
            "tickSize": {"condition": {"test": "indexof([0,0.5,1,1.25,1.55,2,2.5,3], datum.value) >= 0", "value": -19}, "value": -9}}},
        "y": {"datum": 0, "type": "quantitative",
          "axis": {"orient": "right", "values": [0,6.6667,13.3333,20,26.6667,33.3333,40,46.6667,53.3333,60,66.6667,73.3333,80,86.6667,93.3333],
            "labels": false, "title": null, "tickWidth": 1.2,
            "tickSize": {"condition": {"test": "datum.value % 20 === 0", "value": -20}, "value": -10}}},
        "y2": {"datum": 100}
      }
    },
    {
      "data": {"name": "bands"},
      "transform": [{"filter": "datum.m == 'L2'"}],
      "mark": {"type": "line", "strokeWidth": 3.5, "interpolate": "monotone"},
      "encoding": {
        "x": {"field": "x", "type": "quantitative", "axis": null},
        "y": {"field": "w", "type": "quantitative", "axis": null},
        "color": {"field": "m", "type": "nominal", "scale": {"domain": ["L2","L4","L6","L8","EXP"], "range": ["#000000","#ff0000","#00ff00","#008b00","#008b00"]},
          "legend": {"orient": "none", "legendX": 585, "legendY": 128, "title": null, "labelFont": "Liberation Serif, serif", "labelFontSize": 30}},
        "detail": {"field": "b"}
      }
    },
    {
      "data": {"name": "bands"},
      "transform": [{"filter": "datum.m == 'L4'"}],
      "mark": {"type": "line", "strokeWidth": 3.5, "interpolate": "monotone"},
      "encoding": {
        "x": {"field": "x", "type": "quantitative", "axis": null},
        "y": {"field": "w", "type": "quantitative", "axis": null},
        "color": {"field": "m", "type": "nominal", "legend": {"orient": "none", "legendX": 585, "legendY": 128, "title": null, "labelFont": "Liberation Serif, serif", "labelFontSize": 30}},
        "detail": {"field": "b"}
      }
    },
    {
      "data": {"name": "bands"},
      "transform": [{"filter": "datum.m == 'L6'"}],
      "mark": {"type": "line", "strokeWidth": 3.5, "interpolate": "monotone"},
      "encoding": {
        "x": {"field": "x", "type": "quantitative", "axis": null},
        "y": {"field": "w", "type": "quantitative", "axis": null},
        "color": {"field": "m", "type": "nominal", "legend": {"orient": "none", "legendX": 585, "legendY": 128, "title": null, "labelFont": "Liberation Serif, serif", "labelFontSize": 30}},
        "detail": {"field": "b"}
      }
    },
    {
      "data": {"name": "bands"},
      "transform": [{"filter": "datum.m == 'L8'"}],
      "mark": {"type": "line", "strokeWidth": 3.5, "interpolate": "monotone"},
      "encoding": {
        "x": {"field": "x", "type": "quantitative", "axis": null},
        "y": {"field": "w", "type": "quantitative", "axis": null},
        "color": {"field": "m", "type": "nominal", "legend": {"orient": "none", "legendX": 585, "legendY": 128, "title": null, "labelFont": "Liberation Serif, serif", "labelFontSize": 30}},
        "detail": {"field": "b"}
      }
    },
    {
      "data": {"name": "exp"},
      "mark": {"type": "point", "filled": false, "strokeWidth": 3.5, "size": 133, "opacity": 1},
      "encoding": {
        "x": {"field": "x", "type": "quantitative", "axis": null},
        "y": {"field": "w", "type": "quantitative", "axis": null},
        "color": {"field": "m", "type": "nominal",
          "legend": {"orient": "none", "legendX": 585, "legendY": 128, "title": null, "strokeColor": "#000", "fillColor": "#fff", "padding": 3,
            "labelFont": "Liberation Serif, serif", "labelFontSize": 30, "labelColor": "#000", "symbolStrokeWidth": 3.5, "symbolSize": 133, "symbolOffset": 18, "labelOffset": 12, "rowPadding": 6,
            "labelExpr": "datum.label == 'EXP' ? 'Experiment\u00a0' : 'LD layer ' + slice(datum.label, 1)"}},
        "shape": {"field": "m", "type": "nominal", "scale": {"domain": ["L2","L4","L6","L8","EXP"], "range": ["M-3.5,0H3.5","M-3.5,0H3.5","M-3.5,0H3.5","M-3.5,0H3.5","circle"]},
          "legend": {"orient": "none", "legendX": 585, "legendY": 128, "title": null, "strokeColor": "#000", "fillColor": "#fff", "padding": 3,
            "labelFont": "Liberation Serif, serif", "labelFontSize": 30, "labelColor": "#000", "symbolStrokeWidth": 3.5, "symbolSize": 133, "symbolOffset": 18, "labelOffset": 12, "rowPadding": 6,
            "labelExpr": "datum.label == 'EXP' ? 'Experiment\u00a0' : 'LD layer ' + slice(datum.label, 1)"}}
      }
    },
    {
      "data": {"name": "branchLabels"},
      "mark": {"type": "text", "fontSize": 38, "font": "Liberation Serif", "color": "#000", "baseline": "middle", "align": "center"},
      "encoding": {
        "x": {"field": "x", "type": "quantitative", "axis": null},
        "y": {"field": "w", "type": "quantitative", "axis": null},
        "text": {"field": "t"}
      }
    },
    {
      "data": {"name": "panel"},
      "mark": {"type": "text", "fontSize": 40, "font": "Liberation Serif", "color": "#000", "baseline": "middle", "align": "center"},
      "encoding": {
        "x": {"field": "x", "type": "quantitative", "axis": null},
        "y": {"field": "w", "type": "quantitative", "axis": null},
        "text": {"field": "t"}
      }
    }
  ]
}
